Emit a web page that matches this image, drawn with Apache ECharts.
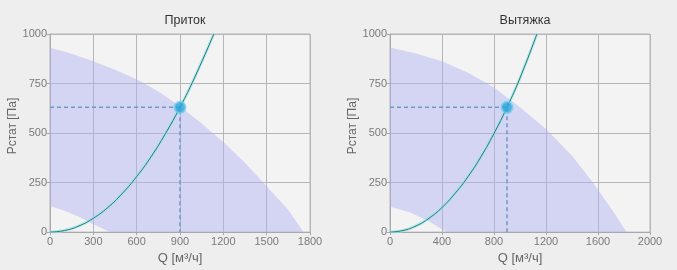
<!DOCTYPE html>
<html>
<head>
<meta charset="utf-8">
<script src="https://cdn.jsdelivr.net/npm/echarts@6/dist/echarts.min.js"></script>
<style>
html,body{margin:0;padding:0;background:#eeeeee;}
#c{width:677px;height:270px;}
</style>
</head>
<body>
<div id="c"></div>
<script>
// ---- data ----
var titles = ['Приток', 'Вытяжка'];
var xMax = [1800, 2000];
var xInterval = [300, 400];
var yTicks = [0, 250, 500, 750, 1000];

// fan working-area boundaries [Q, P]
var upperLeft = [[0,930],[150,900],[300,862],[450,820],[600,772],[750,710],[900,635],[1050,548],[1200,455],[1350,350],[1500,232],[1650,112],[1755,0]];
var lowerLeft = [[0,132],[100,108],[200,78],[300,40],[415,0]];
var upperRight = [[0,932],[200,902],[400,862],[600,805],[800,730],[1000,630],[1200,520],[1400,385],[1560,250],[1700,120],[1820,0]];
var lowerRight = [[0,128],[150,100],[300,55],[435,0]];

// system curve points [Q, P]
var systemLeft = [[0,0],[100,8],[200,31],[300,70],[400,124],[500,195],[600,280],[700,381],[800,498],[900,630],[1000,778],[1134,1000]];
var systemRight = [[0,0],[100,8],[200,31],[300,70],[400,124],[500,195],[600,280],[700,381],[800,498],[900,630],[1000,778],[1130,1000]];

// operating point [Q, P]
var pointLeft = [900, 630];
var pointRight = [900, 630];

var gridLefts = [50, 390];
var uppers = [upperLeft, upperRight];
var lowers = [lowerLeft, lowerRight];
var systems = [systemLeft, systemRight];
var points = [pointLeft, pointRight];

var chart = echarts.init(document.getElementById('c'));
var font = 'Liberation Sans, Arial, sans-serif';

function areaPolygon(upper, lower) {
  return upper.slice().concat(lower.slice().reverse());
}
function plain(v) { return String(v); }

var option = {
  backgroundColor: '#eeeeee',
  animation: false,
  title: [], grid: [], xAxis: [], yAxis: [], series: []
};

for (var i = 0; i < 2; i++) {
  option.title.push({
    text: titles[i],
    left: gridLefts[i] + 130,
    textAlign: 'center',
    top: 9,
    textStyle: {fontFamily: font, fontSize: 12.5, fontWeight: 'normal', color: '#333'}
  });
  option.grid.push({
    left: gridLefts[i], top: 34, width: 260, height: 200,
    show: true, backgroundColor: '#f3f3f3', borderColor: '#b8b8bc', borderWidth: 1
  });
  option.xAxis.push({
    type: 'value', gridIndex: i, min: 0, max: xMax[i], interval: xInterval[i],
    name: 'Q [м³/ч]', nameLocation: 'middle', nameGap: 17,
    nameTextStyle: {fontFamily: font, fontSize: 13, color: '#666'},
    axisLine: {show: true, lineStyle: {color: '#a8a8ac'}},
    axisTick: {show: true, length: 3, lineStyle: {color: '#a8a8ac'}},
    axisLabel: {fontFamily: font, fontSize: 11, color: '#7a7a7a', margin: 4, formatter: plain},
    splitLine: {show: true, lineStyle: {color: '#b6b6ba', width: 1}}
  });
  option.yAxis.push({
    type: 'value', gridIndex: i, min: yTicks[0], max: yTicks[yTicks.length-1], interval: 250,
    name: 'Pстат [Па]', nameLocation: 'middle', nameGap: 23, nameRotate: 90,
    nameTextStyle: {fontFamily: font, fontSize: 12, color: '#666', padding: [0, 0, 0, 14]},
    axisLine: {show: true, lineStyle: {color: '#a8a8ac'}},
    axisTick: {show: true, length: 3, lineStyle: {color: '#a8a8ac'}},
    axisLabel: {fontFamily: font, fontSize: 11, color: '#7a7a7a', margin: 3, formatter: plain},
    splitLine: {show: true, lineStyle: {color: '#b6b6ba', width: 1}}
  });
  (function(poly){
    option.series.push({
      type: 'custom', xAxisIndex: i, yAxisIndex: i, silent: true,
      data: [0],
      renderItem: function(params, api) {
        var pts = poly.map(function(p){ return api.coord(p); });
        return {type: 'polygon', shape: {points: pts}, style: {fill: 'rgba(175,175,245,0.45)'}};
      },
      z: 1
    });
  })(areaPolygon(uppers[i], lowers[i]));
  option.series.push({
    type: 'line', xAxisIndex: i, yAxisIndex: i, data: systems[i], smooth: true,
    symbol: 'none', lineStyle: {color: 'rgba(150,228,232,0.65)', width: 3}, z: 2
  });
  option.series.push({
    type: 'line', xAxisIndex: i, yAxisIndex: i, data: systems[i], smooth: true,
    symbol: 'none', lineStyle: {color: '#237a76', width: 1}, z: 3
  });
  var p = points[i];
  option.series.push({
    type: 'line', xAxisIndex: i, yAxisIndex: i, data: [[0, p[1]], [p[0], p[1]], [p[0], 0]],
    symbol: 'none', lineStyle: {color: '#6d9cc0', width: 1.5, type: [4, 3]}, z: 4
  });
  option.series.push({
    type: 'scatter', xAxisIndex: i, yAxisIndex: i, data: [p], symbolSize: 11,
    itemStyle: {color: '#2aa4dc', borderColor: 'rgba(110,205,240,0.9)', borderWidth: 2}, z: 5
  });
}

chart.setOption(option);
</script>
</body>
</html>
